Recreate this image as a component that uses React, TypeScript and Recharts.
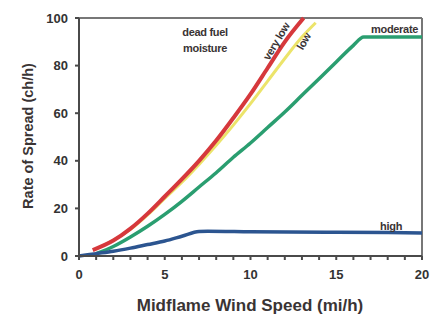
import React from 'react';
import {
    LineChart,
    Line,
    XAxis,
    YAxis,
    ReferenceLine,
    ReferenceDot,
} from 'recharts';

// rate of spread (ch/h) vs midflame wind speed (mi/h), one list per dead fuel moisture
const veryLow = [
    { wind: 0.8, ros: 2.5 }, { wind: 2, ros: 6.5 }, { wind: 3, ros: 11.5 }, { wind: 4, ros: 17.8 },
    { wind: 5, ros: 25 }, { wind: 6, ros: 32.3 }, { wind: 7, ros: 40 }, { wind: 8, ros: 48.5 },
    { wind: 9, ros: 58 }, { wind: 10, ros: 68 }, { wind: 11, ros: 79 }, { wind: 12, ros: 90 },
    { wind: 13.1, ros: 100 },
];

const low = [
    { wind: 1, ros: 3 }, { wind: 2, ros: 6.6 }, { wind: 3, ros: 11.2 }, { wind: 4, ros: 17.3 },
    { wind: 5, ros: 24.2 }, { wind: 6, ros: 31 }, { wind: 7, ros: 38.5 }, { wind: 8, ros: 46.5 },
    { wind: 9, ros: 55 }, { wind: 10, ros: 64 }, { wind: 11, ros: 73.5 }, { wind: 12, ros: 83 },
    { wind: 13, ros: 92 }, { wind: 13.8, ros: 98 },
];

const moderate = [
    { wind: 1, ros: 1 }, { wind: 2, ros: 4 }, { wind: 3, ros: 8 }, { wind: 4, ros: 12.5 },
    { wind: 5, ros: 17.5 }, { wind: 6, ros: 23 }, { wind: 7, ros: 29 }, { wind: 8, ros: 35 },
    { wind: 9, ros: 41.5 }, { wind: 10, ros: 47.5 }, { wind: 11, ros: 54 }, { wind: 12, ros: 60.5 },
    { wind: 13, ros: 67.5 }, { wind: 14, ros: 74.5 }, { wind: 15, ros: 81.5 }, { wind: 16, ros: 88.5 },
    { wind: 16.6, ros: 92 }, { wind: 20, ros: 92 },
];

const high = [
    { wind: 0, ros: 0 }, { wind: 1, ros: 1 }, { wind: 2, ros: 2 }, { wind: 3, ros: 3.3 },
    { wind: 4, ros: 4.8 }, { wind: 5, ros: 6.3 }, { wind: 6, ros: 8.3 }, { wind: 7, ros: 10.3 },
    { wind: 7.5, ros: 10.4 }, { wind: 10, ros: 10.2 }, { wind: 15, ros: 10 }, { wind: 20, ros: 9.7 },
];

const xTicks = [0, 1, 2, 3, 4, 5, 6, 7, 8, 9, 10, 11, 12, 13, 14, 15, 16, 17, 18, 19, 20];
const yTicks = [0, 20, 40, 60, 80, 100];

// annotations: text, wind, ros, rotation
const notes = [
    { text: 'dead fuel', wind: 7.35, ros: 94, angle: 0 },
    { text: 'moisture', wind: 7.35, ros: 87.6, angle: 0 },
    { text: 'very low', wind: 11.5, ros: 90.3, angle: -59 },
    { text: 'low', wind: 13.1, ros: 90.3, angle: -60 },
    { text: 'moderate', wind: 18.4, ros: 95.2, angle: 0 },
    { text: 'high', wind: 18.2, ros: 12.6, angle: 0 },
];

const FONT = '"Liberation Sans", Arial, sans-serif';
const INK = '#3a3434';

const noteLabel = (text: string, angle: number) => (props: any) => {
    const { x, y } = props.viewBox;
    return (
        <text
            x={x}
            y={y}
            textAnchor="middle"
            dominantBaseline="central"
            transform={angle ? `rotate(${angle} ${x} ${y})` : undefined}
            style={{ fontFamily: FONT, fontSize: 11, fontWeight: 700, fill: INK, letterSpacing: -0.3 }}
        >
            {text}
        </text>
    );
};

export default function App() {
    const tickStyle = { fill: '#333', fontSize: 13, fontWeight: 700, fontFamily: FONT };

    return (
        <div style={{ position: 'absolute', left: 0, top: 0, width: 430, height: 320, background: '#fff' }}>
            <LineChart width={430} height={320} margin={{ top: 18, right: 8, left: 0, bottom: 0 }}>
                <XAxis
                    type="number"
                    dataKey="wind"
                    domain={[0, 20]}
                    ticks={xTicks}
                    interval={0}
                    tickFormatter={(v: number) => (v % 5 === 0 ? String(v) : '')}
                    height={64}
                    tickSize={4}
                    tickMargin={10}
                    stroke="#4a4a4a"
                    strokeWidth={2}
                    tick={tickStyle}
                    label={{
                        content: () => (
                            <text
                                x={250}
                                y={305}
                                textAnchor="middle"
                                dominantBaseline="central"
                                style={{ fontFamily: FONT, fontSize: 17, fontWeight: 700, fill: INK }}
                            >
                                Midflame Wind Speed (mi/h)
                            </text>
                        ),
                    }}
                />
                <YAxis
                    type="number"
                    domain={[0, 100]}
                    ticks={yTicks}
                    width={79}
                    tickSize={4}
                    tickMargin={7}
                    stroke="#4a4a4a"
                    strokeWidth={2}
                    tick={tickStyle}
                    label={{
                        content: () => (
                            <text
                                x={28}
                                y={136}
                                textAnchor="middle"
                                dominantBaseline="central"
                                transform="rotate(-90 28 136)"
                                style={{ fontFamily: FONT, fontSize: 14.5, fontWeight: 700, fill: INK }}
                            >
                                Rate of Spread (ch/h)
                            </text>
                        ),
                    }}
                />
                <ReferenceLine y={100} stroke="#777" strokeWidth={2} />
                <ReferenceLine x={20} stroke="#777" strokeWidth={2} />
                <Line data={low} dataKey="ros" type="monotone" stroke="#ece46a" strokeWidth={3} dot={false} isAnimationActive={false} />
                <Line data={moderate} dataKey="ros" type="monotone" stroke="#2a9e70" strokeWidth={3.5} dot={false} isAnimationActive={false} />
                <Line data={high} dataKey="ros" type="monotone" stroke="#2c5590" strokeWidth={3.5} dot={false} isAnimationActive={false} />
                <Line data={veryLow} dataKey="ros" type="monotone" stroke="#d6383c" strokeWidth={4} dot={false} isAnimationActive={false} />
                {notes.map((n) => (
                    <ReferenceDot
                        key={n.text}
                        x={n.wind}
                        y={n.ros}
                        r={0}
                        fill="none"
                        stroke="none"
                        label={{ content: noteLabel(n.text, n.angle) }}
                    />
                ))}
            </LineChart>
        </div>
    );
}
